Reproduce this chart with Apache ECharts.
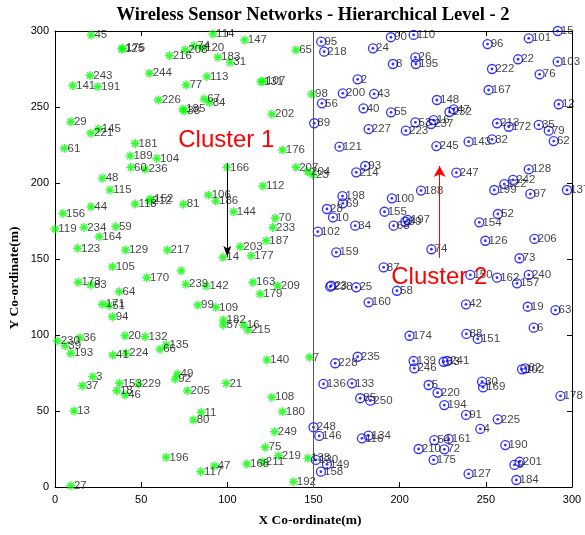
<!DOCTYPE html>
<html>
<head>
<meta charset="utf-8">
<script src="https://cdn.jsdelivr.net/npm/echarts@6/dist/echarts.min.js"></script>
<style>
  html, body { margin: 0; padding: 0; background: #fff; }
  #chart { width: 585px; height: 535px; }
</style>
</head>
<body>
<div id="chart"></div>
<script>
// Sensor nodes of cluster 1 (left half): [x, y, node id]
const cluster1Nodes = [
  [21, 297.4, '45'], [38.7, 288, '125'], [39.3, 288.6, '175'], [66.4, 283.8, '216'],
  [75.5, 287.5, '208'], [80.7, 290.3, '74'], [85.2, 289, '120'], [91.6, 298, '114'],
  [94.5, 282.7, '183'], [110, 294, '147'], [139.8, 287.5, '65'], [101.6, 279.4, '31'],
  [20.3, 270.6, '243'], [10.3, 264, '141'], [24.8, 263.4, '191'], [54.8, 272.2, '244'],
  [76.1, 264.5, '77'], [88.1, 270, '113'], [119.4, 266.6, '131'], [120.6, 267, '107'],
  [60, 254.6, '226'], [86.5, 255.3, '67'], [89.6, 253, '84'], [74.2, 248.7, '185'],
  [74.9, 247.4, '38'], [149, 258.4, '98'], [125.8, 245.2, '202'], [9.1, 240.3, '29'],
  [25.2, 235.5, '145'], [20.7, 232.7, '221'], [46.5, 226, '181'], [5.4, 222.8, '61'],
  [43.6, 217.8, '189'], [59, 216.2, '104'], [44, 210.3, '60'], [52.3, 209, '236'],
  [132, 221.7, '176'], [27.5, 203.1, '48'], [31.9, 195.4, '115'], [99.7, 210.3, '166'],
  [139.8, 210.3, '207'], [146.7, 207.4, '204'], [149.6, 205.3, '23'], [89, 192.1, '106'],
  [93.3, 188.2, '186'], [120.6, 198, '112'], [54.6, 188.4, '212'], [55.7, 189.3, '152'],
  [46.5, 186.2, '118'], [74.5, 186, '81'], [4.5, 180, '156'], [20.9, 184.4, '44'],
  [103.6, 181.1, '144'], [127.8, 176.8, '70'], [0, 169.7, '119'], [16.8, 170.8, '234'],
  [35.2, 171.3, '59'], [25.6, 164.7, '164'], [126.4, 170.8, '233'], [13.2, 157, '123'],
  [41, 155.9, '129'], [65.2, 155.9, '217'], [97.5, 151.1, '14'], [107.4, 158.1, '203'],
  [113.8, 152.2, '177'], [122.5, 162, '187'], [33.3, 145, '105'], [53.2, 137.7, '170'],
  [73.2, 142.3, ''], [75.9, 133.4, '239'], [87.7, 132.2, '142'], [13.5, 134.7, '173'],
  [20.7, 132.9, '83'], [114.8, 134.7, '163'], [129.1, 132.4, '209'], [119, 127, '179'],
  [37.3, 128.5, '64'], [27.5, 120.2, '171'], [31.4, 119.3, '51'], [33.3, 112, '94'],
  [82.9, 119.7, '99'], [93.3, 118.2, '109'], [97.7, 109.9, '182'], [97.7, 106.6, '57'],
  [109.4, 106.6, '16'], [111.9, 103.3, '215'], [40.6, 99.5, '20'], [52.3, 98.9, '132'],
  [1.4, 96, '230'], [14.5, 98.2, '36'], [5.8, 93, '39'], [9.1, 88, '193'],
  [64.5, 93.4, '135'], [60.9, 90.6, '66'], [33.5, 86.8, '41'], [41.2, 88, '224'],
  [122.9, 83.6, '140'], [147.7, 85.3, '7'], [21.9, 72.6, '3'], [15.9, 66.6, '37'],
  [37.4, 68.2, '153'], [35.8, 63.4, '18'], [40.6, 60.5, '46'], [48.4, 67.8, '229'],
  [71, 74.3, '49'], [69.7, 71, '92'], [76.8, 63.4, '205'], [99.3, 68.2, '21'],
  [11, 50, '13'], [84.8, 49.1, '11'], [80.3, 44.1, '80'], [125.8, 59, '108'],
  [132, 49.5, '180'], [127.4, 36.4, '249'], [122, 26.1, '75'], [129.7, 20.6, '219'],
  [111.3, 15.1, '168'], [120.4, 16.6, '211'], [138.4, 3.5, '192'], [146.7, 18.9, '138'],
  [64.5, 19.5, '196'], [92.5, 13.8, '47'], [84.6, 10.1, '117'], [9.1, 0.9, '27']
];

// Sensor nodes of cluster 2 (right half): [x, y, node id]
const cluster2Nodes = [
  [154.5, 293, '95'], [156.2, 286.4, '218'], [184.5, 288.6, '24'], [194.9, 295.9, '90'],
  [208.1, 297.4, '110'], [196.1, 278.3, '8'], [209.1, 282.7, '26'], [209.4, 278.3, '195'],
  [251, 291.4, '96'], [274.9, 295.2, '101'], [291.7, 300, '15'], [268.7, 281.4, '22'],
  [291.7, 279.8, '103'], [253.6, 275, '222'], [281.2, 271.5, '76'], [175.6, 268.2, '2'],
  [167, 259, '200'], [185.2, 258.6, '43'], [251.6, 261.2, '167'], [154.9, 252.4, '56'],
  [179, 249.1, '40'], [195, 246.5, '55'], [221.6, 254.6, '148'], [292.3, 251.8, '12'],
  [228.9, 246.7, '232'], [231.4, 248.4, '47'], [150.4, 239.3, '89'], [182, 235.5, '227'],
  [209.1, 239.9, '53'], [219.7, 241.4, '16'], [218.2, 238.8, '237'], [203.6, 234.4, '223'],
  [256.5, 239.3, '213'], [263.3, 237, '172'], [280.7, 238.2, '35'], [286.5, 234.4, '79'],
  [289.4, 227.6, '62'], [240, 227.2, '143'], [253.6, 228.7, '32'], [165.1, 223.9, '121'],
  [221.3, 224.3, '245'], [180, 211.2, '93'], [174.8, 207, '214'], [232.9, 206.8, '247'],
  [274.9, 209, '128'], [212.4, 195, '188'], [166.8, 191.4, '198'], [167, 186.6, '69'],
  [157.8, 182.9, '28'], [161.3, 177.4, '10'], [195.5, 189.9, '100'], [191.2, 181.1, '155'],
  [254.9, 195.4, '199'], [260.7, 199.3, '122'], [265.8, 202, '242'], [275.8, 192.8, '97'],
  [297.1, 195.4, '137'], [257, 179.6, '52'], [246.2, 174.1, '154'], [174.2, 171.9, '34'],
  [196.5, 171.9, '68'], [203.3, 174.5, '89'], [204.6, 175.7, '197'], [152.5, 168, '102'],
  [163.2, 154.4, '159'], [249.7, 162, '126'], [278.2, 163.2, '206'], [218.4, 156.4, '74'],
  [269.5, 150.5, '73'], [190.7, 144.5, '87'], [241, 139.5, '150'], [256.5, 137.7, '162'],
  [268.1, 134, '157'], [274.9, 139.5, '240'], [159.7, 131.8, '238'], [160.3, 132.5, '23'],
  [174.8, 131.4, '25'], [198.4, 129.1, '58'], [182, 121.5, '160'], [238.5, 120.2, '42'],
  [274.3, 118.6, '19'], [290.4, 116.4, '63'], [277.8, 104.8, '6'], [205.7, 99.5, '174'],
  [238.7, 100.7, '88'], [245.3, 97.4, '151'], [175.6, 85.7, '235'], [162.6, 81.4, '228'],
  [208.1, 82.9, '139'], [208.5, 78.1, '246'], [227.5, 82.9, '241'], [225.5, 82.4, '33'],
  [271, 77.4, '102'], [272.9, 78.1, '82'], [155.8, 67.8, '136'], [172.3, 68.2, '133'],
  [177.1, 58.4, '85'], [182.9, 56.8, '250'], [216.8, 67.1, '5'], [222, 62, '220'],
  [247.8, 69.3, '30'], [248.4, 65.6, '169'], [293.3, 59.9, '178'], [225.9, 53.9, '194'],
  [238.5, 47.4, '91'], [256.9, 44.5, '225'], [246.8, 38.2, '4'], [150, 39.3, '248'],
  [153.3, 33.6, '146'], [178.1, 32, '116'], [181.9, 33.8, '134'], [220.1, 30.9, '54'],
  [228.4, 31.6, '161'], [211, 25, '210'], [225.9, 24.8, '72'], [261.3, 27.6, '190'],
  [219.7, 17.8, '175'], [266.6, 14.5, '9'], [269.6, 16.6, '201'], [240, 8.6, '127'],
  [267.7, 4.6, '184'], [151.4, 17.8, '130'], [157.8, 14.9, '149'], [154.3, 10.1, '158']
];

// Boundary between the two clusters and the pointer arrows
const clusterBoundaryX = 150;
const cluster1Arrow = [[100, 213], [100, 151.5]];
const cluster2Arrow = [[223.2, 150.7], [223.2, 211.2]];
const clusterCaptions = [
  { text: 'Cluster 1', at: [99.4, 228.3] },
  { text: 'Cluster 2', at: [223, 138.2] }
];

const AXIS_MIN = 0, AXIS_MAX = 300, AXIS_STEP = 50;

const chart = echarts.init(document.getElementById('chart'), null, { renderer: 'canvas' });

const nodeLabel = {
  show: true,
  formatter: p => p.data[2],
  position: 'right',
  distance: -2,
  color: '#111',
  fontSize: 11.5,
  fontFamily: 'Liberation Sans, Arial, sans-serif'
};

const axisCommon = {
  type: 'value',
  min: AXIS_MIN,
  max: AXIS_MAX,
  interval: AXIS_STEP,
  axisLine: { show: true, onZero: false, lineStyle: { color: '#000', width: 1 } },
  axisTick: { show: true, inside: true, length: 5, lineStyle: { color: '#000', width: 1 } },
  splitLine: { show: false }
};
const tickText = { color: '#000', fontSize: 11, fontFamily: 'Liberation Sans, Arial, sans-serif' };

const starPath = 'path://M5,0 L5,10 M0,5 L10,5 M1.5,1.5 L8.5,8.5 M1.5,8.5 L8.5,1.5';

chart.setOption({
  animation: false,
  backgroundColor: '#fff',
  grid: { left: 55, right: 13, top: 31, bottom: 48 },
  xAxis: [
    Object.assign({}, axisCommon, { position: 'bottom', axisLabel: Object.assign({ margin: 7 }, tickText) }),
    Object.assign({}, axisCommon, { position: 'top', axisLabel: { show: false } })
  ],
  yAxis: [
    Object.assign({}, axisCommon, { position: 'left', axisLabel: Object.assign({ margin: 6 }, tickText) }),
    Object.assign({}, axisCommon, { position: 'right', axisLabel: { show: false } })
  ],
  graphic: [
    {
      type: 'text', x: 313, y: 15,
      style: {
        text: 'Wireless Sensor Networks - Hierarchical Level - 2',
        font: 'bold 18.5px "Liberation Serif", "Times New Roman", serif',
        fill: '#000', align: 'center', verticalAlign: 'middle'
      }
    },
    {
      type: 'text', x: 310, y: 521,
      style: {
        text: 'X Co-ordinate(m)',
        font: 'bold 13.5px "Liberation Serif", "Times New Roman", serif',
        fill: '#000', align: 'center', verticalAlign: 'middle'
      }
    },
    {
      type: 'text', x: 15, y: 278, rotation: Math.PI / 2,
      style: {
        text: 'Y Co-ordinate(m)',
        font: 'bold 13.5px "Liberation Serif", "Times New Roman", serif',
        fill: '#000', align: 'center', verticalAlign: 'middle'
      }
    }
  ],
  series: [
    {
      name: 'Cluster 1',
      type: 'scatter',
      data: cluster1Nodes,
      symbol: starPath,
      symbolSize: 9,
      itemStyle: { color: 'rgba(0,0,0,0)', borderColor: '#00ff00', borderWidth: 1.5 },
      label: nodeLabel,
      z: 3,
      markLine: {
        silent: true,
        animation: false,
        label: { show: false },
        symbol: ['none', 'none'],
        data: [
          { xAxis: clusterBoundaryX, lineStyle: { color: '#555', width: 1, type: 'solid' } },
          [
            { coord: cluster1Arrow[0], symbol: 'none', lineStyle: { color: '#000', width: 1, type: 'solid' } },
            { coord: cluster1Arrow[1], symbol: 'arrow', symbolSize: [6, 11] }
          ],
          [
            { coord: cluster2Arrow[0], symbol: 'none', lineStyle: { color: '#ff0000', width: 1, type: 'solid' } },
            { coord: cluster2Arrow[1], symbol: 'arrow', symbolSize: [9, 11] }
          ]
        ]
      },
      markPoint: {
        silent: true,
        animation: false,
        symbol: 'circle',
        symbolSize: 0,
        label: {
          show: true, position: 'inside', color: '#ff0000', fontSize: 24,
          fontFamily: 'Liberation Sans, Arial, sans-serif',
          formatter: p => p.name
        },
        data: clusterCaptions.map(c => ({ name: c.text, coord: c.at }))
      }
    },
    {
      name: 'Cluster 2',
      type: 'scatter',
      data: cluster2Nodes,
      symbol: 'circle',
      symbolSize: 9,
      itemStyle: { color: 'rgba(255,255,255,0)', borderColor: '#0000ff', borderWidth: 1.3 },
      label: nodeLabel,
      z: 3
    },
    {
      name: 'Cluster 2 centre dot',
      type: 'scatter',
      data: cluster2Nodes,
      symbol: 'circle',
      symbolSize: 2.8,
      itemStyle: { color: '#0000ff' },
      label: { show: false },
      z: 4
    }
  ]
});
</script>
</body>
</html>
